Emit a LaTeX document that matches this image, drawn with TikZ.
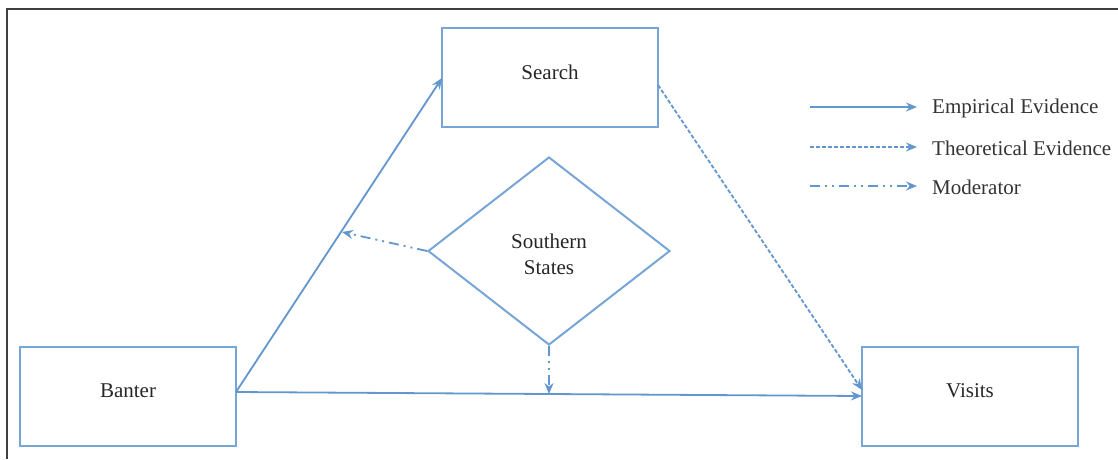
\documentclass[tikz,border=0pt]{standalone}
\usepackage{fontspec}
\setmainfont{Liberation Serif}
\usetikzlibrary{arrows.meta,shapes.geometric}
\definecolor{lineblue}{RGB}{98,150,206}
\definecolor{boxblue}{RGB}{120,165,215}
\begin{document}
\begin{tikzpicture}[x=1pt,y=-1pt,
  box/.style={draw=boxblue,line width=2pt,minimum width=216pt,minimum height=99pt,inner sep=0pt},
  lbl/.style={inner sep=0pt,font=\fontsize{21}{26}\selectfont,text=black!85,align=center},
  dia/.style={draw=boxblue,line width=2pt,diamond,aspect=1.29,minimum width=242pt,minimum height=188pt,inner sep=0pt},
  conn/.style={draw=lineblue,line width=1.8pt,-{Stealth[length=11pt,width=9pt]}},
  emp/.style={conn},
  theo/.style={conn,dash pattern=on 4pt off 2pt},
  modr/.style={conn,dash pattern=on 10pt off 5pt on 2pt off 5pt on 2pt off 5pt},
  legtext/.style={anchor=west,inner sep=0pt,font=\fontsize{21}{26}\selectfont,text=black!80}
]
\useasboundingbox (0,0) rectangle (1118,459);
\draw[black!75,line width=1.5pt] (7,459) -- (7,9) -- (1118,9);
\node[box] (search) at (550,77.5) {};
\node[box] (banter) at (128,396.5) {};
\node[box] (visits) at (970,396.5) {};
\node[dia] (south) at (549,251) {};
\node[lbl] (searchT) at (550,72) {Search};
\node[lbl] (banterT) at (128,391) {Banter};
\node[lbl] (visitsT) at (970,391) {Visits};
\node[lbl] (southT) at (549,254) {Southern\\States};
\coordinate (bs) at (236,392);
\coordinate (se) at (442,78);
\coordinate (ve) at (862,396);
\coordinate (sv) at (658,85);
\coordinate (ve2) at (862,390);
\draw[emp] (bs) -- (se);
\draw[emp] (bs) -- (ve);
\draw[theo] (sv) -- (ve2);
\coordinate (m1) at (342,232);
\coordinate (m2) at (549,394);
\draw[modr] (south.west) -- (m1);
\draw[modr] (south.south) -- (m2);
% legend
\coordinate (l1a) at (810,107); \coordinate (l1b) at (917,107);
\coordinate (l2a) at (810,147); \coordinate (l2b) at (917,147);
\coordinate (l3a) at (810,186); \coordinate (l3b) at (917,186);
\draw[emp] (l1a) -- (l1b);
\draw[theo] (l2a) -- (l2b);
\draw[modr] (l3a) -- (l3b);
\node[legtext] (t1) at (932,108) {Empirical Evidence};
\node[legtext] (t2) at (932,148) {Theoretical Evidence};
\node[legtext] (t3) at (932,187) {Moderator};
\end{tikzpicture}
\end{document}
